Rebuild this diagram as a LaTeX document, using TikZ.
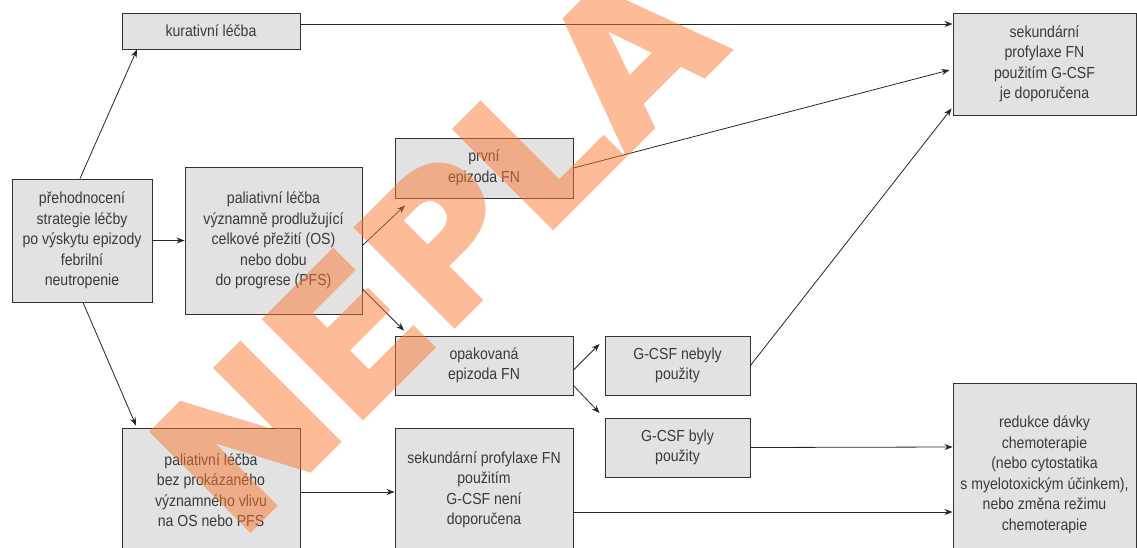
\documentclass[tikz,border=0pt]{standalone}
\usepackage{fontspec}
\setmainfont{Liberation Sans}[FakeStretch=0.88]
\newfontfamily\markfont{DejaVu Sans}[BoldFeatures={FakeBold=2.5}]
\usetikzlibrary{arrows.meta}
\definecolor{boxfill}{HTML}{E2E2E2}
\definecolor{boxline}{HTML}{333333}
\definecolor{ink}{HTML}{3A3A3A}
\definecolor{stamp}{RGB}{251,119,49}
\begin{document}
\begin{tikzpicture}[x=1pt,y=-1pt,
  box/.style={draw=boxline, fill=boxfill, line width=0.9pt, text=ink, align=center,
    inner sep=0pt, font=\fontsize{16}{20.5}\selectfont},
  link/.style={draw=black!85, line width=0.8pt, -{Stealth[length=8pt,width=6pt]}},
]
\useasboundingbox (0,0) rectangle (1137,547);
\clip (0,0) rectangle (1137,547);

% boxes
\node[box, minimum width=178pt, minimum height=36pt] (kur) at (211,31) {kurativní léčba};
\node[box, minimum width=140pt, minimum height=123pt] (preh) at (82,240.5)
  {přehodnocení\\strategie léčby\\po výskytu epizody\\febrilní\\neutropenie};
\node[box, minimum width=177pt, minimum height=147pt] (palv) at (273.5,240.5)
  {paliativní léčba\\významně prodlužující\\celkové přežití (OS)\\nebo dobu\\do progrese (PFS)};
\node[box, minimum width=178pt, minimum height=60pt] (prvni) at (484,168) {první\\epizoda FN};
\node[box, minimum width=178pt, minimum height=59pt] (opak) at (484,365.5) {opakovaná\\epizoda FN};
\node[box, minimum width=145pt, minimum height=59pt] (nebyly) at (677.5,365.5) {G-CSF nebyly\\použity};
\node[box, minimum width=145pt, minimum height=59pt] (byly) at (677.5,447.5) {G-CSF byly\\použity};
\node[box, minimum width=183pt, minimum height=102pt] (sekdop) at (1044.5,64)
  {sekundární\\profylaxe FN\\použitím G-CSF\\je doporučena};
\node[box, minimum width=178pt, minimum height=124pt] (palbez) at (211,490)
  {paliativní léčba\\bez prokázaného\\významného vlivu\\na OS nebo PFS};
\node[box, minimum width=178pt, minimum height=124pt] (sekne) at (484,490)
  {sekundární profylaxe FN\\použitím\\G-CSF není\\doporučena};
\node[box, minimum width=183pt, minimum height=184pt] (red) at (1044.5,475)
  {redukce dávky\\chemoterapie\\(nebo cytostatika\\s myelotoxickým účinkem),\\nebo změna režimu\\chemoterapie};

% connectors
\draw[link] ([xshift=-2pt]preh.north) -- ([xshift=-74pt]kur.south);
\draw[link] ([xshift=1pt]preh.south) -- ([xshift=-75pt,yshift=2pt]palbez.north);
\draw[link] (preh.east) -- (palv.west);
\draw[link] ([yshift=-5pt]palv.east) -- ([xshift=-79pt,yshift=-7pt]prvni.south);
\draw[link] ([yshift=-48.5pt]palv.east) -- ([xshift=-80pt,yshift=5pt]opak.north);
\draw[link] ([yshift=7pt]kur.east) -- ([yshift=40pt]sekdop.west);
\draw[link] (prvni.east) -- ([xshift=-3pt,yshift=-6pt]sekdop.west);
\draw[link] (nebyly.east) -- ([xshift=-1pt,yshift=7pt]sekdop.south west);
\draw[link] ([yshift=-4.5pt]opak.east) -- ([xshift=-5pt,yshift=21.5pt]nebyly.west);
\draw[link] ([yshift=-20pt]opak.east) -- ([xshift=-5pt,yshift=34.5pt]byly.west);
\draw[link] (byly.east) -- ([yshift=28pt]red.west);
\draw[link] ([yshift=-2pt]palbez.east) -- ([yshift=-2pt]sekne.west);
\draw[link] ([yshift=-22pt]sekne.east) -- ([yshift=-37pt]red.west);

% stamp across the chart, composited as one translucent layer
\begin{scope}[transparency group, opacity=0.5]
  \node[anchor=base west, rotate=45, inner sep=0pt, text=stamp,
    font=\markfont\bfseries\fontsize{190}{190}\selectfont] (mark) at (238,542) {NEPLA};
\end{scope}
\end{tikzpicture}
\end{document}
